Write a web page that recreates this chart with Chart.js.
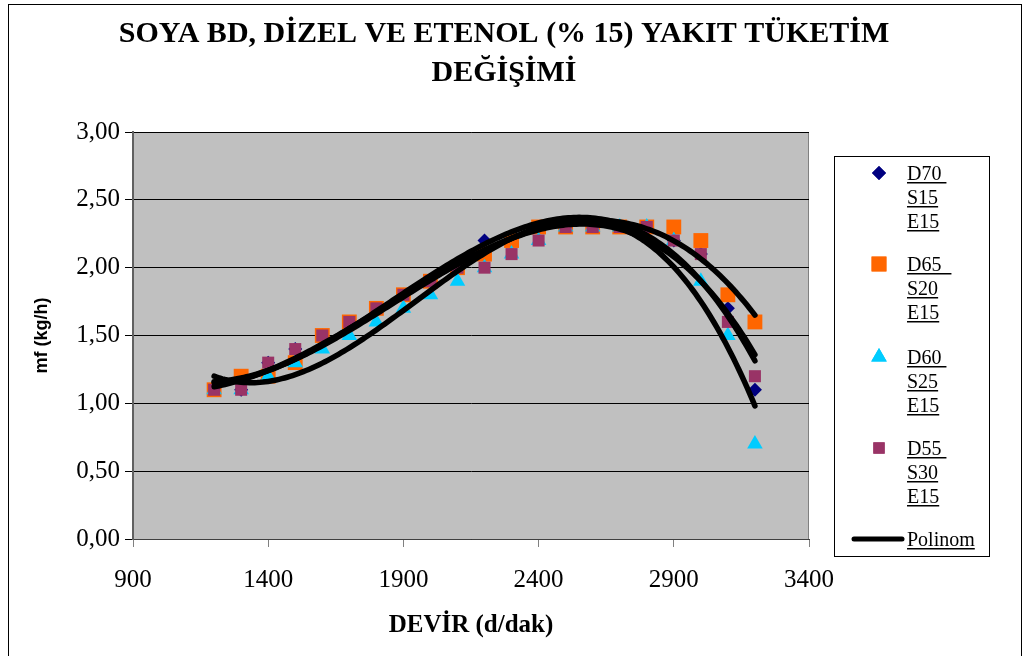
<!DOCTYPE html>
<html>
<head>
<meta charset="utf-8">
<script src="https://cdn.jsdelivr.net/npm/chart.js@4.4.0/dist/chart.umd.min.js"></script>
<style>
  html, body { margin: 0; padding: 0; background: #ffffff; }
  #wrap { width: 1027px; height: 656px; position: relative; }
</style>
</head>
<body>
<div id="wrap"><canvas id="c" width="1027" height="656"></canvas></div>
<script>
// Engine speed (d/dak) and fuel consumption mf (kg/h) per blend
const rpm = [1200, 1300, 1400, 1500, 1600, 1700, 1800, 1900, 2000, 2100, 2200,
             2300, 2400, 2500, 2600, 2700, 2800, 2900, 3000, 3100, 3200];
const d70 = [1.10, 1.10, 1.30, 1.40, 1.50, 1.60, 1.70, 1.80, 1.90, 2.00, 2.20,
             2.20, 2.30, 2.30, 2.30, 2.30, 2.30, 2.20, 2.10, 1.70, 1.10];
const d65 = [1.10, 1.20, 1.20, 1.30, 1.50, 1.60, 1.70, 1.80, 1.90, 2.00, 2.10,
             2.20, 2.30, 2.30, 2.30, 2.30, 2.30, 2.30, 2.20, 1.80, 1.60];
const d60 = [1.10, 1.10, 1.20, 1.30, 1.40, 1.50, 1.60, 1.70, 1.80, 1.90, 2.00,
             2.10, 2.20, 2.30, 2.30, 2.30, 2.30, 2.20, 1.90, 1.50, 0.70];
const d55 = [1.10, 1.10, 1.30, 1.40, 1.50, 1.60, 1.70, 1.80, 1.90, 2.00, 2.00,
             2.10, 2.20, 2.30, 2.30, 2.30, 2.30, 2.20, 2.10, 1.60, 1.20];

const seriesLabels = [['D70 ', 'S15', 'E15'], ['D65  ', 'S20', 'E15'],
                      ['D60 ', 'S25', 'E15'], ['D55 ', 'S30', 'E15']];
const trendLabel = 'Polinom';
const titleLines = ['SOYA BD, DİZEL VE ETENOL (% 15) YAKIT TÜKETİM', 'DEĞİŞİMİ'];
const xTitle = 'DEVİR (d/dak)';
const yTitle = 'mf (kg/h)';

const SERIF = '"Liberation Serif", "Times New Roman", serif';
const SANS = '"Liberation Sans", Arial, sans-serif';

// Least-squares polynomial trendline (3rd order) through a series
function polyFit(xs, ys, deg) {
  const n = deg + 1;
  const u = xs.map(x => (x - 2200) / 1000);
  const A = [];
  for (let r = 0; r < n; r++) {
    const row = [];
    for (let c = 0; c < n; c++) row.push(u.reduce((s, v) => s + Math.pow(v, r + c), 0));
    row.push(u.reduce((s, v, i) => s + Math.pow(v, r) * ys[i], 0));
    A.push(row);
  }
  for (let i = 0; i < n; i++) {
    let p = i;
    for (let k = i + 1; k < n; k++) if (Math.abs(A[k][i]) > Math.abs(A[p][i])) p = k;
    [A[i], A[p]] = [A[p], A[i]];
    for (let k = i + 1; k < n; k++) {
      const f = A[k][i] / A[i][i];
      for (let c = i; c <= n; c++) A[k][c] -= f * A[i][c];
    }
  }
  const coef = new Array(n).fill(0);
  for (let i = n - 1; i >= 0; i--) {
    let s = A[i][n];
    for (let c = i + 1; c < n; c++) s -= A[i][c] * coef[c];
    coef[i] = s / A[i][i];
  }
  return x => {
    const t = (x - 2200) / 1000;
    return coef.reduce((s, a, k) => s + a * Math.pow(t, k), 0);
  };
}

function trendPoints(ys) {
  const f = polyFit(rpm, ys, 3);
  const pts = [];
  for (let x = rpm[0]; x <= rpm[rpm.length - 1]; x += 10) pts.push({ x: x, y: f(x) });
  return pts;
}

const toXY = ys => rpm.map((x, i) => ({ x: x, y: ys[i] }));

const markerSets = [
  { label: 'D70 S15 E15', data: toXY(d70), pointStyle: 'rectRot', pointRadius: 7,
    backgroundColor: '#000080', borderColor: '#000080', order: 4, legendRadius: 7 },
  { label: 'D65 S20 E15', data: toXY(d65), pointStyle: 'rect', pointRadius: 10.5,
    backgroundColor: '#FF6600', borderColor: '#FF6600', order: 3, legendRadius: 10.5 },
  { label: 'D60 S25 E15', data: toXY(d60), pointStyle: 'triangle', pointRadius: 9,
    backgroundColor: '#00CCFF', borderColor: '#00CCFF', order: 2, legendRadius: 9 },
  { label: 'D55 S30 E15', data: toXY(d55), pointStyle: 'rect', pointRadius: 8.5,
    backgroundColor: '#993366', borderColor: '#993366', order: 1, legendRadius: 8 }
].map(d => Object.assign(d, { borderWidth: 0, pointHoverRadius: d.pointRadius, showLine: false }));

const trendSets = [d70, d65, d60, d55].map((ys, i) => ({
  label: i === 0 ? trendLabel : trendLabel + ' ' + (i + 1),
  data: trendPoints(ys),
  showLine: true,
  borderColor: '#000000',
  borderWidth: 5.5,
  borderCapStyle: 'round',
  borderJoinStyle: 'round',
  pointRadius: 0,
  pointHoverRadius: 0,
  tension: 0,
  fill: false,
  order: 0
}));

// Page frame, plot background and plot border
const backdrop = {
  id: 'backdrop',
  beforeDraw(chart) {
    const { ctx, chartArea: a } = chart;
    ctx.save();
    ctx.fillStyle = '#ffffff';
    ctx.fillRect(0, 0, chart.width, chart.height);
    ctx.strokeStyle = '#000000';
    ctx.lineWidth = 1;
    ctx.strokeRect(8.5, 4.5, 1013, 700);
    ctx.fillStyle = '#C0C0C0';
    ctx.fillRect(a.left, a.top, a.right - a.left, a.bottom - a.top);
    ctx.strokeStyle = '#808080';
    ctx.strokeRect(a.left + 0.5, a.top + 0.5, a.right - a.left - 1, a.bottom - a.top);
    ctx.restore();
  },
  afterDraw(chart) {
    const { ctx } = chart;
    ctx.save();
    ctx.fillStyle = '#000000';
    ctx.font = 'bold 30px ' + SERIF;
    ctx.textAlign = 'center';
    ctx.textBaseline = 'middle';
    titleLines.forEach((t, i) => ctx.fillText(t, 504, 34 + i * 39));
    ctx.restore();
  }
};

// Boxed legend with stacked, underlined labels
const boxLegend = {
  id: 'boxLegend',
  afterDraw(chart) {
    const { ctx } = chart;
    const bx = 834.5, by = 156.5, bw = 155, bh = 400;
    ctx.save();
    ctx.fillStyle = '#ffffff';
    ctx.fillRect(bx, by, bw, bh);
    ctx.strokeStyle = '#000000';
    ctx.lineWidth = 1;
    ctx.strokeRect(bx, by, bw, bh);

    ctx.font = '20px ' + SERIF;
    ctx.textAlign = 'left';
    ctx.textBaseline = 'alphabetic';
    const textX = 907;
    const underline = (txt, x, base) => {
      const w = ctx.measureText(txt).width;
      ctx.fillRect(x, base + 2, w, 1.5);
    };
    const starts = [173, 264, 357, 448];
    markerSets.forEach((ds, i) => {
      const y0 = starts[i];
      ctx.fillStyle = ds.backgroundColor;
      ctx.strokeStyle = ds.borderColor;
      Chart.helpers.drawPoint(ctx, { pointStyle: ds.pointStyle, radius: ds.legendRadius, rotation: 0, borderWidth: 0 }, 879, y0);
      ctx.fill();
      ctx.fillStyle = '#000000';
      seriesLabels[i].forEach((line, j) => {
        const base = y0 + j * 24 + 7;
        ctx.fillText(line, textX, base);
        underline(line, textX, base);
      });
    });
    // trendline entry
    ctx.strokeStyle = '#000000';
    ctx.lineWidth = 5;
    ctx.lineCap = 'round';
    ctx.beginPath();
    ctx.moveTo(854, 539);
    ctx.lineTo(902, 539);
    ctx.stroke();
    ctx.fillStyle = '#000000';
    ctx.fillText(trendLabel, textX, 546);
    underline(trendLabel, textX, 546);
    ctx.restore();
  }
};

new Chart(document.getElementById('c'), {
  type: 'scatter',
  data: { datasets: [...trendSets, ...markerSets] },
  options: {
    responsive: false,
    animation: false,
    events: [],
    layout: { padding: { top: 132, left: 0, right: 218, bottom: 0 } },
    plugins: { legend: { display: false }, title: { display: false }, tooltip: { enabled: false } },
    scales: {
      x: {
        type: 'linear',
        min: 900, max: 3400,
        afterFit(scale) { scale.height = 117; },
        ticks: { stepSize: 500, color: '#000000', padding: 18,
                 font: { family: SERIF, size: 25 }, callback: v => String(v) },
        grid: { drawOnChartArea: false, drawTicks: true, tickLength: 8, color: '#808080' },
        border: { display: true, color: '#404040', width: 1 },
        title: { display: true, text: xTitle, color: '#000000',
                 font: { family: SERIF, size: 25, weight: 'bold' }, padding: { top: 0, bottom: 15 } }
      },
      y: {
        type: 'linear',
        min: 0, max: 3,
        afterFit(scale) { scale.width = 133; },
        ticks: { stepSize: 0.5, color: '#000000', padding: 5,
                 font: { family: SERIF, size: 25 },
                 callback: v => v.toFixed(2).replace('.', ',') },
        grid: { drawOnChartArea: true, drawTicks: true, tickLength: 8, color: '#000000', lineWidth: 1 },
        border: { display: true, color: '#606060', width: 2 },
        title: { display: true, text: yTitle, color: '#000000',
                 font: { family: SANS, size: 18, weight: 'bold' }, padding: { top: 31, bottom: 0 } }
      }
    }
  },
  plugins: [backdrop, boxLegend]
});
</script>
</body>
</html>
